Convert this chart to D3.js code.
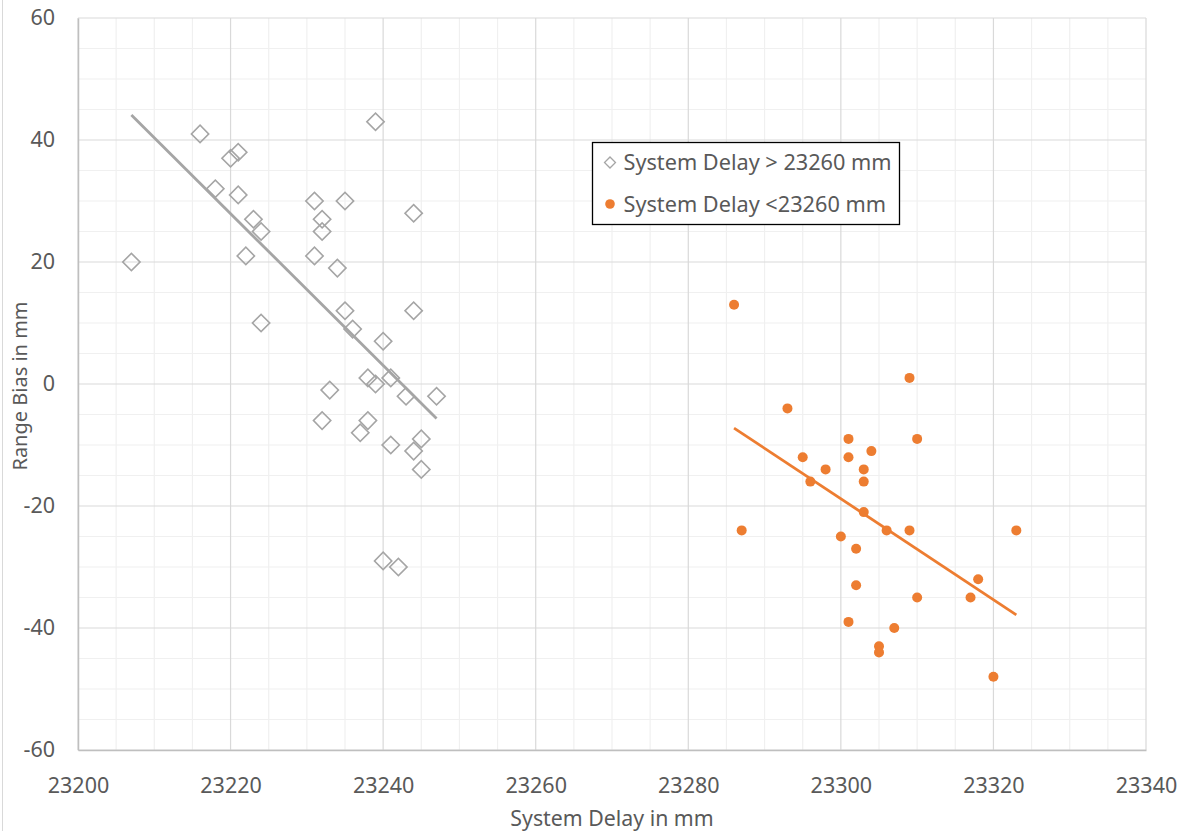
<!DOCTYPE html>
<html>
<head>
<meta charset="utf-8">
<script src="https://cdn.jsdelivr.net/npm/d3@7"></script>
<style>
  html, body { margin: 0; padding: 0; background: #fff; }
  svg { display: block; font-family: "Segoe UI", "Noto Sans", "Open Sans", sans-serif; }
</style>
</head>
<body>
<svg id="chart" width="1183" height="831"></svg>
<script>
// Series above 23260 mm (hollow diamonds)
const highDelay = [23207, 23216, 23218, 23220, 23221, 23221, 23223, 23224, 23222, 23224,
                   23231, 23232, 23232, 23231, 23235, 23234, 23239, 23235, 23236, 23233,
                   23232, 23240, 23238, 23239, 23241, 23244, 23244, 23243, 23247, 23238,
                   23237, 23241, 23245, 23244, 23245, 23240, 23242];
const highBias  = [20, 41, 32, 37, 38, 31, 27, 25, 21, 10,
                   30, 27, 25, 21, 30, 19, 43, 12, 9, -1,
                   -6, 7, 1, 0, 1, 28, 12, -2, -2, -6,
                   -8, -10, -9, -11, -14, -29, -30];

// Series below 23260 mm (filled dots)
const lowDelay = [23286, 23293, 23309, 23301, 23310, 23304, 23295, 23301, 23298, 23303,
                  23296, 23303, 23303, 23287, 23306, 23309, 23323, 23300, 23302, 23302,
                  23318, 23310, 23317, 23301, 23307, 23305, 23305, 23320];
const lowBias  = [13, -4, 1, -9, -9, -11, -12, -12, -14, -14,
                  -16, -16, -21, -24, -24, -24, -24, -25, -27, -33,
                  -32, -35, -35, -39, -40, -43, -44, -48];

const xTicks = [23200, 23220, 23240, 23260, 23280, 23300, 23320, 23340];
const yTicks = [-60, -40, -20, 0, 20, 40, 60];
const legendLabels = ["System Delay > 23260 mm", "System Delay <23260 mm"];

const svg = d3.select("#chart");
const plot = { left: 78, right: 1146, top: 18, bottom: 750 };

const x = d3.scaleLinear().domain([23200, 23340]).range([plot.left, plot.right]);
const y = d3.scaleLinear().domain([-60, 60]).range([plot.bottom, plot.top]);

const labelColor = "#595959";
const grayMark = "#a5a5a5";
const orange = "#ed7d31";

// outer chart border (left edge)
svg.append("line").attr("x1", 2.5).attr("x2", 2.5).attr("y1", 0).attr("y2", 831)
  .attr("stroke", "#d9d9d9").attr("stroke-width", 1);

// minor gridlines every 5 units
const grid = svg.append("g");
d3.range(23200, 23341, 5).filter(v => v % 20 !== 0).forEach(v => {
  grid.append("line").attr("x1", x(v)).attr("x2", x(v)).attr("y1", plot.top).attr("y2", plot.bottom)
    .attr("stroke", "#f0f0f0").attr("stroke-width", 1.2);
});
d3.range(-60, 61, 5).filter(v => v % 20 !== 0).forEach(v => {
  grid.append("line").attr("x1", plot.left).attr("x2", plot.right).attr("y1", y(v)).attr("y2", y(v))
    .attr("stroke", "#f0f0f0").attr("stroke-width", 1.2);
});
// major gridlines
xTicks.forEach(v => {
  grid.append("line").attr("x1", x(v)).attr("x2", x(v)).attr("y1", plot.top).attr("y2", plot.bottom)
    .attr("stroke", "#d9d9d9").attr("stroke-width", 1.2);
});
yTicks.forEach(v => {
  grid.append("line").attr("x1", plot.left).attr("x2", plot.right).attr("y1", y(v)).attr("y2", y(v))
    .attr("stroke", "#d9d9d9").attr("stroke-width", 1.2);
});

// axes (plain hyphen for negatives)
const fmt = d => String(d);
const xAxis = d3.axisBottom(x).tickValues(xTicks).tickSize(0).tickPadding(28).tickFormat(fmt);
const yAxis = d3.axisLeft(y).tickValues(yTicks).tickSize(0).tickPadding(23).tickFormat(fmt);

const gx = svg.append("g").attr("transform", `translate(0,${plot.bottom})`).call(xAxis);
const gy = svg.append("g").attr("transform", `translate(${plot.left},0)`).call(yAxis);
[gx, gy].forEach(g => {
  g.select(".domain").attr("stroke", "#bfbfbf").attr("stroke-width", 1.5);
  g.selectAll("text").attr("fill", labelColor).style("font-size", "21.5px")
    .style("font-family", "\"Segoe UI\", \"Noto Sans\", sans-serif");
});
gx.selectAll("text").attr("dy", "0.71em");

// axis titles
svg.append("text").attr("x", (plot.left + plot.right) / 2).attr("y", 826)
  .attr("text-anchor", "middle").attr("fill", labelColor).style("font-size", "21.3px")
  .text("System Delay in mm");
svg.append("text").attr("transform", `translate(27,${(plot.top + plot.bottom) / 2 + 2}) rotate(-90)`)
  .attr("text-anchor", "middle").attr("fill", labelColor).style("font-size", "20px")
  .text("Range Bias in mm");

// least-squares trend line drawn across the series' x extent
function trend(xs, ys) {
  const mx = d3.mean(xs), my = d3.mean(ys);
  let sxy = 0, sxx = 0;
  xs.forEach((v, i) => { sxy += (v - mx) * (ys[i] - my); sxx += (v - mx) * (v - mx); });
  const b = sxy / sxx, a = my - b * mx;
  const [x0, x1] = d3.extent(xs);
  return [[x0, a + b * x0], [x1, a + b * x1]];
}
const line = d3.line().x(d => x(d[0])).y(d => y(d[1]));

const highPts = highDelay.map((d, i) => [d, highBias[i]]);
const lowPts = lowDelay.map((d, i) => [d, lowBias[i]]);

// diamonds
const diamond = d3.symbol().type(d3.symbolSquare).size(150);
svg.append("g").selectAll("path").data(highPts).join("path")
  .attr("d", diamond)
  .attr("transform", d => `translate(${x(d[0])},${y(d[1])}) rotate(45)`)
  .attr("fill", "none").attr("stroke", grayMark).attr("stroke-width", 1.6);

svg.append("path").datum(trend(highDelay, highBias)).attr("d", line)
  .attr("stroke", grayMark).attr("stroke-width", 2.8).attr("fill", "none");

// dots
svg.append("g").selectAll("circle").data(lowPts).join("circle")
  .attr("cx", d => x(d[0])).attr("cy", d => y(d[1])).attr("r", 5)
  .attr("fill", orange);

svg.append("path").datum(trend(lowDelay, lowBias)).attr("d", line)
  .attr("stroke", orange).attr("stroke-width", 2.8).attr("fill", "none");

// legend
const lg = svg.append("g").attr("transform", "translate(592.5,142.5)");
lg.append("rect").attr("width", 307).attr("height", 82)
  .attr("fill", "#fff").attr("stroke", "#000").attr("stroke-width", 1.3);
lg.append("path").attr("d", d3.symbol().type(d3.symbolSquare).size(60)())
  .attr("transform", "translate(17.5,20) rotate(45)")
  .attr("fill", "none").attr("stroke", grayMark).attr("stroke-width", 1.3);
lg.append("circle").attr("cx", 17.5).attr("cy", 61.5).attr("r", 4.8).attr("fill", orange);
legendLabels.forEach((t, i) => {
  lg.append("text").attr("x", 31).attr("y", 20 + i * 41.5).attr("dy", "0.35em")
    .attr("fill", labelColor).style("font-size", "21.7px").text(t);
});
</script>
</body>
</html>
